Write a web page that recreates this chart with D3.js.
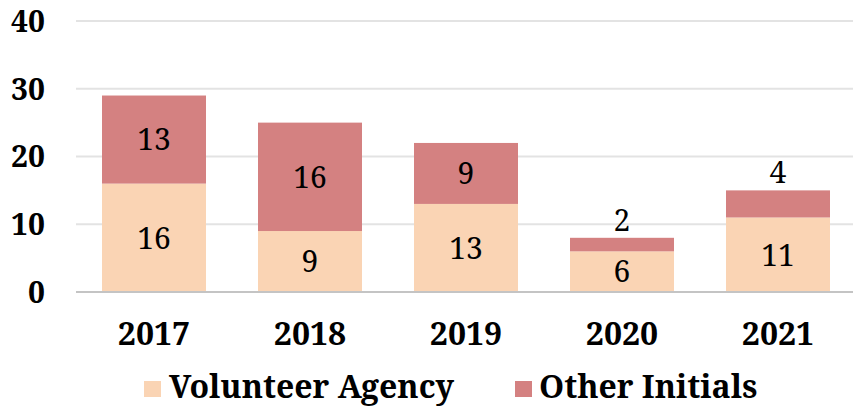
<!DOCTYPE html>
<html>
<head>
<meta charset="utf-8">
<script src="https://cdn.jsdelivr.net/npm/d3@7"></script>
<style>
  body { margin: 0; background: #fff; }
</style>
</head>
<body>
<div id="chart"></div>
<script>
// Data
const years = ["2017", "2018", "2019", "2020", "2021"];
const volunteerAgency = [16, 9, 13, 6, 11];
const otherInitials = [13, 16, 9, 2, 4];
const seriesNames = ["Volunteer Agency", "Other Initials"];
const yTicks = [0, 10, 20, 30, 40];

// Configuration
const W = 853, H = 408;
const margin = { top: 21, right: 0, bottom: 116, left: 76 };
const colors = ["#fad4b4", "#d48181"];
const FONT = "Noto Serif";

const svg = d3.select("#chart").append("svg")
    .attr("width", W)
    .attr("height", H);

const x = d3.scaleBand()
    .domain(years)
    .range([margin.left, margin.left + 156 * years.length])
    .paddingInner(1 / 3)
    .paddingOuter(1 / 6);

const y = d3.scaleLinear()
    .domain([0, 40])
    .range([H - margin.bottom, margin.top]);

// Gridlines
svg.append("g")
    .selectAll("line")
    .data(yTicks.filter(d => d > 0))
    .enter()
    .append("line")
    .attr("x1", margin.left)
    .attr("x2", W)
    .attr("y1", d => y(d))
    .attr("y2", d => y(d))
    .attr("stroke", "#e3e3e3")
    .attr("stroke-width", 2);

// Stack
const rows = years.map((yr, i) => ({ year: yr, va: volunteerAgency[i], oi: otherInitials[i] }));
const layers = d3.stack().keys(["va", "oi"])(rows);

const layerG = svg.selectAll(".layer")
    .data(layers)
    .enter()
    .append("g")
    .attr("class", "layer")
    .attr("fill", (d, i) => colors[i]);

layerG.selectAll("rect")
    .data(d => d)
    .enter()
    .append("rect")
    .attr("x", d => x(d.data.year))
    .attr("width", x.bandwidth())
    .attr("y", d => y(d[1]))
    .attr("height", d => y(d[0]) - y(d[1]));

// Baseline axis
svg.append("line")
    .attr("x1", margin.left)
    .attr("x2", W)
    .attr("y1", y(0))
    .attr("y2", y(0))
    .attr("stroke", "#c4c4c4")
    .attr("stroke-width", 2);

// Data labels (small segments get pushed above the bar)
layerG.selectAll("text")
    .data(d => d)
    .enter()
    .append("text")
    .attr("x", d => x(d.data.year) + x.bandwidth() / 2)
    .attr("y", d => {
        const v = d[1] - d[0];
        if (v < 5) return y(d[1]) - 18;
        return (y(d[0]) + y(d[1])) / 2;
    })
    .attr("dy", "0.36em")
    .attr("text-anchor", "middle")
    .attr("fill", "#000")
    .style("font-family", FONT)
    .style("font-size", "30px")
    .text(d => d[1] - d[0]);

// Y axis labels
svg.append("g")
    .selectAll("text")
    .data(yTicks)
    .enter()
    .append("text")
    .attr("x", 45)
    .attr("y", d => y(d))
    .attr("dy", "0.36em")
    .attr("text-anchor", "end")
    .attr("fill", "#000")
    .style("font-family", FONT)
    .style("font-size", "30px")
    .style("font-weight", "bold")
    .text(d => d);

// X axis labels
svg.append("g")
    .selectAll("text")
    .data(years)
    .enter()
    .append("text")
    .attr("x", d => x(d) + x.bandwidth() / 2)
    .attr("y", 345)
    .attr("text-anchor", "middle")
    .attr("fill", "#000")
    .style("font-family", FONT)
    .style("font-size", "32px")
    .style("font-weight", "bold")
    .text(d => d);

// Legend
const legendX = [144, 515];
const legend = svg.append("g")
    .selectAll("g")
    .data(seriesNames)
    .enter()
    .append("g")
    .attr("transform", (d, i) => `translate(${legendX[i]}, 381)`);

legend.append("rect")
    .attr("width", 17)
    .attr("height", 16)
    .attr("fill", (d, i) => colors[i]);

legend.append("text")
    .attr("x", d => d === seriesNames[0] ? 25 : 24)
    .attr("y", 17)
    .attr("fill", "#000")
    .style("font-family", FONT)
    .style("font-size", "32px")
    .style("font-weight", "bold")
    .text(d => d);
</script>
</body>
</html>
